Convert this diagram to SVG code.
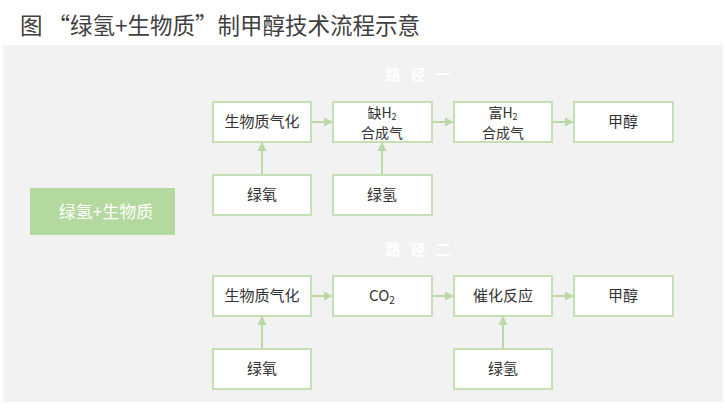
<svg xmlns="http://www.w3.org/2000/svg" width="725" height="411" viewBox="0 0 725 411">
<defs>
<style>
.box{fill:#ffffff;stroke:#c6e0b6;stroke-width:2}
.t{font-family:"Noto Sans CJK SC","Liberation Sans",sans-serif;font-size:15px;fill:#333333;text-anchor:middle}
.t2{font-family:"Noto Sans CJK SC","Liberation Sans",sans-serif;font-size:14px;fill:#333333;text-anchor:middle}
.lbl{font-family:"Noto Sans CJK SC","Liberation Sans",sans-serif;font-size:15px;fill:#ffffff;text-anchor:middle;font-weight:bold;letter-spacing:10px}
.c{stroke:#b9d9a6;stroke-width:2;fill:none;marker-end:url(#ah)}
</style>
<marker id="ah" viewBox="0 0 10 10" refX="9" refY="5" markerWidth="4.5" markerHeight="4.5" orient="auto" markerUnits="strokeWidth">
<path d="M0,0 L10,5 L0,10 z" fill="#b9d9a6"/>
</marker>
</defs>
<rect width="725" height="411" fill="#ffffff"/>
<text x="20" y="34" font-family="Noto Sans CJK SC,Liberation Sans,sans-serif" font-size="22.5" fill="#404040">图 “绿氢+生物质”制甲醇技术流程示意</text>
<rect x="3" y="45" width="720" height="357" fill="#f2f2f2"/>
<text class="lbl" x="423" y="80">路径一</text>
<text class="lbl" x="423" y="255">路径二</text>
<g id="src">
<rect x="30" y="188" width="145" height="47" fill="#b4d99e"/>
<text x="106" y="218" font-family="Noto Sans CJK SC,Liberation Sans,sans-serif" font-size="17" fill="#ffffff" text-anchor="middle">绿氢+生物质</text>
</g>
<g id="p1-gasify"><rect class="box" x="213" y="102" width="98" height="40"/><text class="t" x="262" y="127">生物质气化</text></g>
<g id="p1-lowh2"><rect class="box" x="333" y="102" width="99" height="40"/><text class="t2" x="382" y="118">缺H<tspan font-size="9" dy="2">2</tspan></text><text class="t2" x="382" y="138">合成气</text></g>
<g id="p1-richh2"><rect class="box" x="454" y="102" width="98" height="40"/><text class="t2" x="503" y="118">富H<tspan font-size="9" dy="2">2</tspan></text><text class="t2" x="503" y="138">合成气</text></g>
<g id="p1-methanol"><rect class="box" x="574" y="102" width="99" height="40"/><text class="t" x="623" y="127">甲醇</text></g>
<g id="p1-o2"><rect class="box" x="213" y="175" width="98" height="40"/><text class="t" x="262" y="200">绿氧</text></g>
<g id="p1-h2"><rect class="box" x="333" y="175" width="99" height="40"/><text class="t" x="382" y="200">绿氢</text></g>
<g id="p2-gasify"><rect class="box" x="213" y="276" width="98" height="40"/><text class="t" x="262" y="301">生物质气化</text></g>
<g id="p2-co2"><rect class="box" x="333" y="276" width="99" height="40"/><text class="t" x="382" y="301">CO<tspan font-size="10" dy="3">2</tspan></text></g>
<g id="p2-cat"><rect class="box" x="454" y="276" width="98" height="40"/><text class="t" x="503" y="301">催化反应</text></g>
<g id="p2-methanol"><rect class="box" x="574" y="276" width="99" height="40"/><text class="t" x="623" y="301">甲醇</text></g>
<g id="p2-o2"><rect class="box" x="213" y="349" width="98" height="40"/><text class="t" x="262" y="374">绿氧</text></g>
<g id="p2-h2"><rect class="box" x="454" y="349" width="98" height="40"/><text class="t" x="503" y="374">绿氢</text></g>
<g id="connectors">
<line class="c" x1="312" y1="122" x2="332" y2="122"/>
<line class="c" x1="433" y1="122" x2="453" y2="122"/>
<line class="c" x1="553" y1="122" x2="573" y2="122"/>
<line class="c" x1="262" y1="174" x2="262" y2="143"/>
<line class="c" x1="382" y1="174" x2="382" y2="143"/>
<line class="c" x1="312" y1="296" x2="332" y2="296"/>
<line class="c" x1="433" y1="296" x2="453" y2="296"/>
<line class="c" x1="553" y1="296" x2="573" y2="296"/>
<line class="c" x1="262" y1="348" x2="262" y2="317"/>
<line class="c" x1="503" y1="348" x2="503" y2="317"/>
</g>
</svg>
